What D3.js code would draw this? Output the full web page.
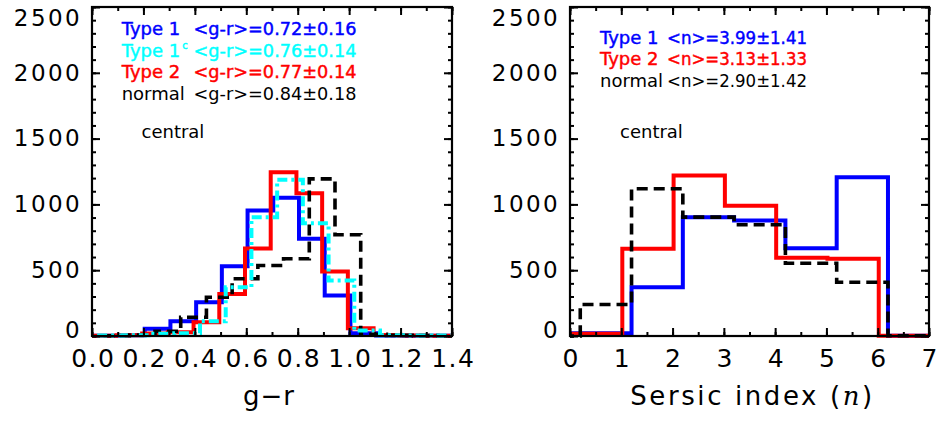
<!DOCTYPE html>
<html>
<head>
<meta charset="utf-8">
<script src="https://cdn.jsdelivr.net/npm/d3@7"></script>
<style>
  html, body { margin: 0; padding: 0; background: #fff; }
  svg { display: block; }
  text { font-family: "DejaVu Sans", sans-serif; }
</style>
</head>
<body>
<svg id="chart" width="936" height="421"></svg>
<script>
// ---- data -------------------------------------------------------------
const countTicks = [0, 500, 1000, 1500, 2000, 2500];

// g-r colour histograms (bin width 0.1, each sample binned from its own start)
const grTicks = [0.0, 0.2, 0.4, 0.6, 0.8, 1.0, 1.2, 1.4];
const grBinWidth = 0.1;
const grType1Start = 0.005;
const grType1Counts = [2, 5, 55, 112, 257, 530, 954, 1050, 739, 308, 21, 4, 2, 1];
const grType1cStart = 0.02;
const grType1cCounts = [3, 5, 17, 20, 112, 371, 903, 1187, 857, 422, 42, 6, 4, 3];
const grType2Start = -0.005;
const grType2Counts = [2, 5, 19, 29, 104, 320, 665, 1245, 1085, 490, 59, 8, 3, 1, 0];
const grNormalStart = 0.045;
const grNormalCounts = [2, 8, 36, 143, 295, 435, 536, 587, 1194, 769, 12, 5, 3, 2];

// Sersic index histograms (bin width 1)
const nTicks = [0, 1, 2, 3, 4, 5, 6, 7];
const nBinWidth = 1;
const nType1Start = -0.8;
const nType1Counts = [20, 21, 371, 903, 878, 667, 1207, 2];
const nType2Start = 0.02;
const nType2Counts = [17, 663, 1220, 989, 594, 587, 1];
const nNormalStart = -0.8;
const nNormalCounts = [0, 239, 1119, 903, 845, 553, 409, 2];

// legend lines
const grLegendNames = ["Type 1", "Type 1", "Type 2", "normal"];
const grLegendStats = ["<g-r>=0.72\u00b10.16", "<g-r>=0.76\u00b10.14", "<g-r>=0.77\u00b10.14", "<g-r>=0.84\u00b10.18"];
const nLegendNames = ["Type 1", "Type 2", "normal"];
const nLegendStats = ["<n>=3.99\u00b11.41", "<n>=3.13\u00b11.33", "<n>=2.90\u00b11.42"];

// ---- drawing ----------------------------------------------------------
const svg = d3.select("#chart");

const BLUE = "#0000ff", CYAN = "#00ffff", RED = "#ff0000", BLACK = "#000000";
const styles = {
  solid: null,
  dashed: "11,6",
  dashdot: "10,4,3,4"
};

function histPoints(start, width, counts) {
  const pts = counts.map((c, i) => [start + i * width, c]);
  pts.push([start + counts.length * width, counts[counts.length - 1]]);
  return pts;
}

function panel(opt) {
  const g = svg.append("g");
  const x = d3.scaleLinear().domain(opt.xDomain).range([opt.left, opt.right]);
  const y = d3.scaleLinear().domain([0, 2500]).range([opt.bottom, opt.top]);

  const clipId = "clip" + opt.id;
  svg.append("clipPath").attr("id", clipId)
    .append("rect")
    .attr("x", opt.left).attr("y", opt.top - 4)
    .attr("width", opt.right - opt.left).attr("height", opt.bottom - opt.top + 8);

  // histograms
  const line = d3.line().x(d => x(d[0])).y(d => y(d[1])).curve(d3.curveStepAfter);
  const hg = g.append("g").attr("clip-path", `url(#${clipId})`);
  opt.series.forEach(s => {
    hg.append("path")
      .attr("d", line(histPoints(s.start, opt.binWidth, s.counts)))
      .attr("fill", "none")
      .attr("stroke", s.color)
      .attr("stroke-width", s.width)
      .attr("stroke-linejoin", "miter")
      .attr("stroke-linecap", "butt")
      .attr("stroke-dasharray", styles[s.dash]);
  });

  // axes: major + minor ticks on all four sides, pointing inward
  const minorX = d3.range(opt.xDomain[0], opt.xDomain[1] + 1e-9, opt.xMinor);
  const minorY = d3.range(0, 2500 + 1e-9, 100);

  const bottomMajor = d3.axisBottom(x).tickValues(opt.xTicks).tickFormat(opt.xFormat)
    .tickSizeInner(-8).tickSizeOuter(0).tickPadding(13);
  const bottomMinor = d3.axisBottom(x).tickValues(minorX).tickFormat("").tickSizeInner(-4).tickSizeOuter(0);
  const topMajor = d3.axisTop(x).tickValues(opt.xTicks).tickFormat("").tickSizeInner(-8).tickSizeOuter(0);
  const topMinor = d3.axisTop(x).tickValues(minorX).tickFormat("").tickSizeInner(-4).tickSizeOuter(0);
  const leftMajor = d3.axisLeft(y).tickValues(countTicks).tickFormat(d3.format("d"))
    .tickSizeInner(-8).tickSizeOuter(0).tickPadding(10);
  const leftMinor = d3.axisLeft(y).tickValues(minorY).tickFormat("").tickSizeInner(-4).tickSizeOuter(0);
  const rightMajor = d3.axisRight(y).tickValues(countTicks).tickFormat("").tickSizeInner(-8).tickSizeOuter(0);
  const rightMinor = d3.axisRight(y).tickValues(minorY).tickFormat("").tickSizeInner(-4).tickSizeOuter(0);

  const ax = g.append("g");
  const bm = ax.append("g").attr("transform", `translate(0,${opt.bottom})`).call(bottomMajor);
  ax.append("g").attr("transform", `translate(0,${opt.bottom})`).call(bottomMinor);
  ax.append("g").attr("transform", `translate(0,${opt.top})`).call(topMajor);
  ax.append("g").attr("transform", `translate(0,${opt.top})`).call(topMinor);
  const lm = ax.append("g").attr("transform", `translate(${opt.left},0)`).call(leftMajor);
  ax.append("g").attr("transform", `translate(${opt.left},0)`).call(leftMinor);
  ax.append("g").attr("transform", `translate(${opt.right},0)`).call(rightMajor);
  ax.append("g").attr("transform", `translate(${opt.right},0)`).call(rightMinor);

  ax.selectAll(".domain").remove();
  ax.selectAll(".tick line").attr("stroke", BLACK).attr("stroke-width", 2);

  bm.selectAll("text")
    .attr("fill", BLACK)
    .style("font-size", "25px")
    .style("letter-spacing", opt.xLetter + "px")
    .attr("dx", (opt.xLetter / 2) + "px");

  lm.selectAll("text")
    .attr("fill", BLACK)
    .style("font-size", "23px")
    .style("letter-spacing", "2.4px")
    .attr("x", -10)
    .attr("transform", d => d === 2500 ? "translate(0,11)" : d === 0 ? "translate(0,-6)" : null);

  // frame
  g.append("rect")
    .attr("x", opt.left).attr("y", opt.top)
    .attr("width", opt.right - opt.left).attr("height", opt.bottom - opt.top)
    .attr("fill", "none").attr("stroke", BLACK).attr("stroke-width", 2.2);

  // axis title
  const title = g.append("text")
    .attr("x", (opt.left + opt.right) / 2 + opt.titleShift)
    .attr("y", 405)
    .attr("text-anchor", "middle")
    .style("font-size", "26px")
    .style("letter-spacing", opt.titleLetter + "px")
    .attr("fill", BLACK);
  opt.title(title);

  // legend
  const lg = g.append("g");
  opt.legend.forEach((row, i) => {
    const yy = opt.legendY + i * 21.6;
    const name = lg.append("text")
      .attr("x", opt.legendX).attr("y", yy)
      .style("font-size", "18px")
      .attr("fill", row.color)
      .attr("stroke", row.color === BLACK ? "none" : row.color)
      .attr("stroke-width", 0.45)
      .text(row.name);
    if (row.sup) {
      name.append("tspan").attr("dy", -8).attr("dx", 2).style("font-size", "10px").text(row.sup);
    }
    lg.append("text")
      .attr("x", opt.statX).attr("y", yy)
      .style("font-size", "18px")
      .attr("fill", row.color)
      .attr("stroke", row.color === BLACK ? "none" : row.color)
      .attr("stroke-width", 0.45)
      .attr("textLength", opt.statWidth)
      .attr("lengthAdjust", "spacingAndGlyphs")
      .text(row.stat);
  });
  lg.append("text")
    .attr("x", opt.centralX).attr("y", 138)
    .style("font-size", "18px")
    .attr("fill", BLACK)
    .text("central");
}

// left panel: g-r colour
panel({
  id: "gr",
  left: 92, right: 452, top: 7, bottom: 336,
  xDomain: [0, 1.4], xTicks: grTicks, xMinor: 0.1, xFormat: d3.format(".1f"), xLetter: 1.5,
  binWidth: grBinWidth,
  series: [
    { start: grType1Start, counts: grType1Counts, color: BLUE, dash: "solid", width: 4 },
    { start: grType2Start, counts: grType2Counts, color: RED, dash: "solid", width: 4 },
    { start: grNormalStart, counts: grNormalCounts, color: BLACK, dash: "dashed", width: 3.6 },
    { start: grType1cStart, counts: grType1cCounts, color: CYAN, dash: "dashdot", width: 4 }
  ],
  title: t => t.text("g\u2212r"),
  titleShift: -3, titleLetter: 1,
  legendX: 121.7, statX: 193.5, statWidth: 163, legendY: 35,
  legend: [
    { name: grLegendNames[0], stat: grLegendStats[0], color: BLUE },
    { name: grLegendNames[1], sup: "c", stat: grLegendStats[1], color: CYAN },
    { name: grLegendNames[2], stat: grLegendStats[2], color: RED },
    { name: grLegendNames[3], stat: grLegendStats[3], color: BLACK }
  ],
  centralX: 141.5
});

// right panel: Sersic index
panel({
  id: "n",
  left: 570, right: 929, top: 7, bottom: 336,
  xDomain: [0, 7], xTicks: nTicks, xMinor: 0.5, xFormat: d3.format("d"), xLetter: 0,
  binWidth: nBinWidth,
  series: [
    { start: nType1Start, counts: nType1Counts, color: BLUE, dash: "solid", width: 4 },
    { start: nType2Start, counts: nType2Counts, color: RED, dash: "solid", width: 4 },
    { start: nNormalStart, counts: nNormalCounts, color: BLACK, dash: "dashed", width: 3.6 }
  ],
  title: t => {
    t.append("tspan").text("Sersic index (");
    t.append("tspan").style("font-family", "'DejaVu Serif', serif").style("font-style", "italic").text("n");
    t.append("tspan").text(")");
  },
  titleShift: 3, titleLetter: 2.6,
  legendX: 600, statX: 667, statWidth: 140, legendY: 43.5,
  legend: [
    { name: nLegendNames[0], stat: nLegendStats[0], color: BLUE },
    { name: nLegendNames[1], stat: nLegendStats[1], color: RED },
    { name: nLegendNames[2], stat: nLegendStats[2], color: BLACK }
  ],
  centralX: 620
});
</script>
</body>
</html>
